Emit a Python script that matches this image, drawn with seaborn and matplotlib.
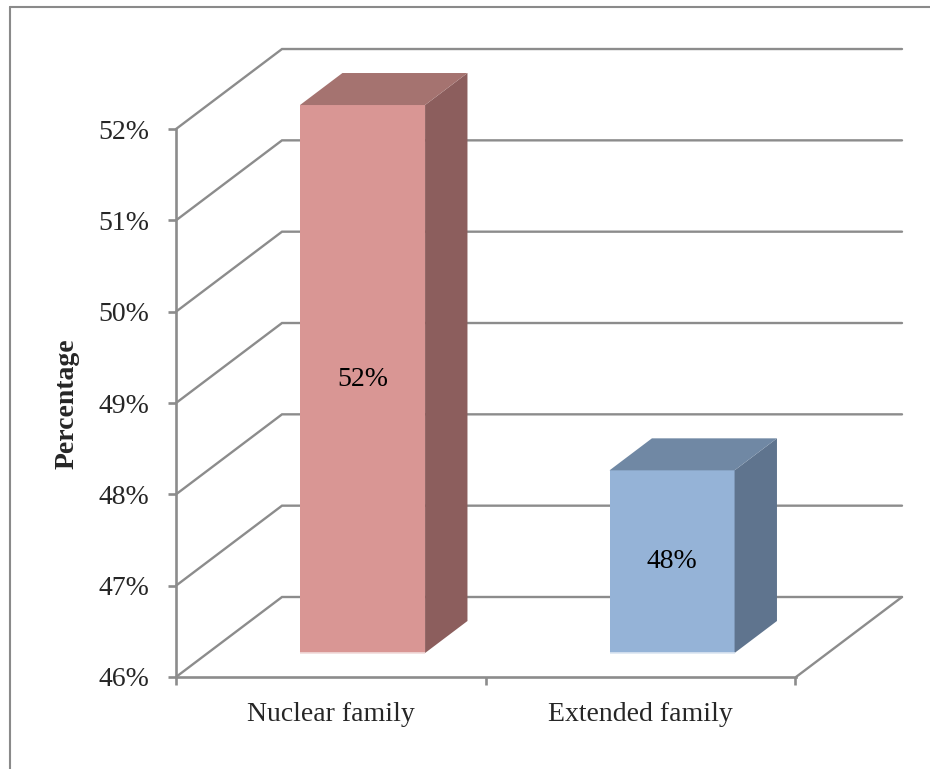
import matplotlib.pyplot as plt
import seaborn as sns
from matplotlib.patches import Polygon
from matplotlib.lines import Line2D

# chart values
categories = ["Nuclear family", "Extended family"]
values = [52, 48]
value_labels = ["52%", "48%"]
y_ticks = [46, 47, 48, 49, 50, 51, 52]
y_tick_labels = ["46%", "47%", "48%", "49%", "50%", "51%", "52%"]

front_colors = ["#D99694", "#95B3D7"]
side_colors = ["#8C5E5D", "#5F748E"]
top_colors = ["#A57370", "#7088A4"]
base_colors = ["#F2DCDB", "#DCE6F2"]

sns.set_style("white")
plt.rcParams['font.family'] = ['Liberation Serif', 'DejaVu Serif']

W, H = 930, 769
fig = plt.figure(figsize=(W / 100, H / 100), dpi=100)
ax = fig.add_axes([176 / W, (H - 677) / H, (902 - 176) / W, (677 - 49) / H])

# fake 3D: pixel scale of the front plane and the wall depth vector
px_x, px_y = 309.5, 91.33
xmin = -0.5
xmax = xmin + (902 - 176) / px_x
ymin = y_ticks[0]
depth_x, depth_y = 106 / px_x, 80 / px_y
gap_depth, bar_depth = 0.3, 0.4
grid_col = "#8c8c8c"

# front faces of the bars
sns.barplot(x=categories, y=values, hue=categories, palette=front_colors,
            saturation=1, width=0.404, legend=False, errorbar=None, ax=ax,
            zorder=3, linewidth=0)

base = ymin + gap_depth * depth_y
for i, p in enumerate(ax.patches):
    p.set_x(p.get_x() + gap_depth * depth_x)
    p.set_height(p.get_height() - ymin)
    p.set_y(base)
    x0, w, h = p.get_x(), p.get_width(), p.get_height()
    x1, yt = x0 + w, base + h
    bdx, bdy = bar_depth * depth_x, bar_depth * depth_y
    ax.add_patch(Polygon([(x1, base), (x1 + bdx, base + bdy), (x1 + bdx, yt + bdy), (x1, yt)],
                         closed=True, facecolor=side_colors[i], edgecolor="none", zorder=3))
    ax.add_patch(Polygon([(x0, yt), (x0 + bdx, yt + bdy), (x1 + bdx, yt + bdy), (x1, yt)],
                         closed=True, facecolor=top_colors[i], edgecolor="none", zorder=3))
    ax.plot([x0, x1], [base, base], color=base_colors[i], lw=1.2, zorder=4,
            solid_capstyle="butt")

for cont, lab in zip(ax.containers, value_labels):
    ax.bar_label(cont, labels=[lab], label_type="center", fontsize=20, color="black")

# back wall gridlines and left wall diagonals
for v in y_ticks:
    ax.plot([xmin, xmin + depth_x, xmax], [v, v + depth_y, v + depth_y],
            color=grid_col, lw=1.7, zorder=1, clip_on=False, solid_joinstyle="miter")
# floor right edge
ax.plot([xmax - depth_x, xmax], [ymin, ymin + depth_y], color=grid_col, lw=1.7,
        zorder=1, clip_on=False)

ax.set_xlim(xmin, xmax)
ax.set_ylim(ymin, ymin + (677 - 49) / px_y)

for s in ["top", "right"]:
    ax.spines[s].set_visible(False)
ax.spines["left"].set_bounds(ymin, y_ticks[-1])
ax.spines["bottom"].set_bounds(xmin, xmax - depth_x)
for s in ["left", "bottom"]:
    ax.spines[s].set_color(grid_col)
    ax.spines[s].set_linewidth(1.9)

ax.set_yticks(y_ticks)
ax.set_yticklabels(y_tick_labels, fontsize=20)
ax.set_xticks([-0.5, 0.5, 1.5])
ax.set_xticklabels([])
ax.set_xticks([0, 1], minor=True)
ax.set_xticklabels(categories, minor=True, fontsize=20)
ax.tick_params(axis="y", which="major", left=True, length=6, width=1.9,
               color=grid_col, pad=13.5)
ax.tick_params(axis="x", which="major", bottom=True, length=6, width=1.9,
               color=grid_col)
ax.tick_params(axis="x", which="minor", bottom=True, length=0, pad=18)
ax.set_xlabel("")
ax.set_ylabel("")

fig.text(67 / W, (H - 404) / H, "Percentage", rotation=90, ha="center", va="center",
         fontsize=20, fontweight="bold")

# outer frame (left and top edges)
fig.add_artist(Line2D([10 / W, 10 / W], [0, (H - 7) / H], color="#8a8a8a", lw=1.5))
fig.add_artist(Line2D([10 / W, 1], [(H - 7) / H, (H - 7) / H], color="#8a8a8a", lw=1.5))

fig.savefig("out.png", dpi=100)
